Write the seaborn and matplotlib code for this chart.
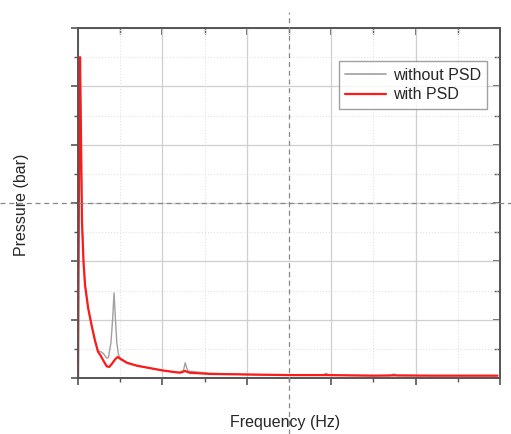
import numpy as np
import pandas as pd
import matplotlib
matplotlib.use("Agg")
import matplotlib.pyplot as plt
import seaborn as sns
from matplotlib.lines import Line2D
from matplotlib.ticker import MultipleLocator

# frequency axis (Hz) and spectra
freq_sin = [0, 1, 2.4, 3.5, 4.7, 6.5, 8.3, 12, 16.6, 20, 23.7, 27, 30, 34, 36,
            39, 41, 42.7, 44, 46, 48, 50, 58, 70, 85, 100, 115, 121, 125, 127,
            130, 156, 200, 250, 290, 294, 298, 350, 370, 374, 378, 420, 497]
amp_sin = [1.3, 3.0, 5.5, 4.2, 2.7, 2.0, 1.6, 1.2, 0.87, 0.65, 0.46, 0.45, 0.42,
           0.34, 0.35, 0.6, 1.0, 1.46, 1.1, 0.6, 0.4, 0.34, 0.27, 0.21, 0.17,
           0.13, 0.10, 0.10, 0.13, 0.26, 0.12, 0.08, 0.06, 0.05, 0.05, 0.08,
           0.05, 0.04, 0.04, 0.07, 0.04, 0.04, 0.04]

freq_con = [0, 1, 2.4, 3.5, 4.7, 6.5, 8.3, 12, 16.6, 20, 23.7, 27, 30, 34, 37,
            40, 44, 47, 50, 58, 70, 85, 100, 115, 121, 127, 132, 156, 200, 250,
            294, 350, 374, 420, 497]
amp_con = [0.0, 3.0, 5.5, 4.2, 2.7, 2.0, 1.6, 1.2, 0.87, 0.65, 0.45, 0.38, 0.3,
           0.2, 0.19, 0.24, 0.32, 0.36, 0.33, 0.26, 0.21, 0.17, 0.13, 0.10,
           0.09, 0.12, 0.09, 0.07, 0.06, 0.05, 0.05, 0.04, 0.045, 0.04, 0.04]

serie_labels = ["without PSD", "with PSD"]


def armar_tabla():
    a = pd.DataFrame({"f": freq_sin, "p": amp_sin, "serie": serie_labels[0]})
    b = pd.DataFrame({"f": freq_con, "p": amp_con, "serie": serie_labels[1]})
    return pd.concat([a, b], ignore_index=True)


def main():
    sns.set_style("white")
    plt.rcParams["font.family"] = ["Liberation Sans", "DejaVu Sans"]

    df = armar_tabla()

    fig = plt.figure(figsize=(5.11, 4.34), dpi=100)
    ax = fig.add_axes([78 / 511, 1 - 378 / 434, 422 / 511, 350 / 434])

    sns.lineplot(
        data=df, x="f", y="p", hue="serie", sort=False, estimator=None,
        palette={"without PSD": "#a0a0a0", "with PSD": "#ff1a1a"},
        ax=ax, legend=False,
    )
    lineas = ax.get_lines()
    lineas[0].set_linewidth(1.0)
    lineas[1].set_linewidth(1.6)

    ax.set_xlim(0, 500)
    ax.set_ylim(0, 6)
    ax.xaxis.set_major_locator(MultipleLocator(100))
    ax.xaxis.set_minor_locator(MultipleLocator(50))
    ax.yaxis.set_major_locator(MultipleLocator(1))
    ax.yaxis.set_minor_locator(MultipleLocator(0.5))
    ax.grid(which="major", color="#cfcfcf", linewidth=0.9)
    ax.grid(which="minor", color="#e2e2e2", linewidth=0.8, linestyle=":")
    ax.set_axisbelow(True)

    for s in ax.spines.values():
        s.set_color("#555555")
        s.set_linewidth(1.4)

    ax.tick_params(which="both", bottom=True, left=True, top=False, right=False,
                   direction="out", labelbottom=False, labelleft=False,
                   color="#555555")
    ax.tick_params(which="major", length=5, width=1.2)
    ax.tick_params(which="minor", length=3, width=1.0)
    # espejo de ticks hacia adentro arriba y a la derecha
    ax2 = ax.secondary_xaxis("top")
    ax2.xaxis.set_major_locator(MultipleLocator(100))
    ax2.xaxis.set_minor_locator(MultipleLocator(50))
    ax2.tick_params(which="both", direction="in", labeltop=False, color="#555555")
    ax2.tick_params(which="major", length=5, width=1.2)
    ax2.tick_params(which="minor", length=4, width=1.0)
    ax2.spines["top"].set_visible(False)
    ay2 = ax.secondary_yaxis("right")
    ay2.yaxis.set_major_locator(MultipleLocator(1))
    ay2.yaxis.set_minor_locator(MultipleLocator(0.5))
    ay2.tick_params(which="both", direction="in", labelright=False, color="#555555")
    ay2.tick_params(which="major", length=5, width=1.2)
    ay2.tick_params(which="minor", length=4, width=1.0)
    ay2.spines["right"].set_visible(False)

    ax.set_xlabel("")
    ax.set_ylabel("")
    fig.text(285 / 511, 1 - 422 / 434, "Frequency (Hz)", ha="center",
             va="center", fontsize=11.5)
    fig.text(22 / 511, 1 - 205 / 434, "Pressure (bar)", ha="center",
             va="center", rotation=90, fontsize=11.5)

    handles = [Line2D([], [], color="#a0a0a0", linewidth=1.2),
               Line2D([], [], color="#ff1a1a", linewidth=1.6)]
    leg = ax.legend(handles, serie_labels, loc="upper right",
                    bbox_to_anchor=(0.97, 0.905), borderaxespad=0,
                    fontsize=11.5, frameon=True, fancybox=False,
                    handlelength=2.6, borderpad=0.4, labelspacing=0.3,
                    handletextpad=0.4)
    leg.get_frame().set_edgecolor("#888888")
    leg.get_frame().set_linewidth(1.0)

    # cursor en cruz, punteado
    fig.add_artist(Line2D([289 / 511, 289 / 511], [0, 1 - 12 / 434],
                          transform=fig.transFigure, color="#888888",
                          linestyle=(0, (4, 3)), linewidth=0.9))
    fig.add_artist(Line2D([0, 1], [1 - 203 / 434, 1 - 203 / 434],
                          transform=fig.transFigure, color="#888888",
                          linestyle=(0, (4, 3)), linewidth=0.9))

    fig.savefig("out.png", dpi=100)
    plt.close(fig)


if __name__ == "__main__":
    main()
